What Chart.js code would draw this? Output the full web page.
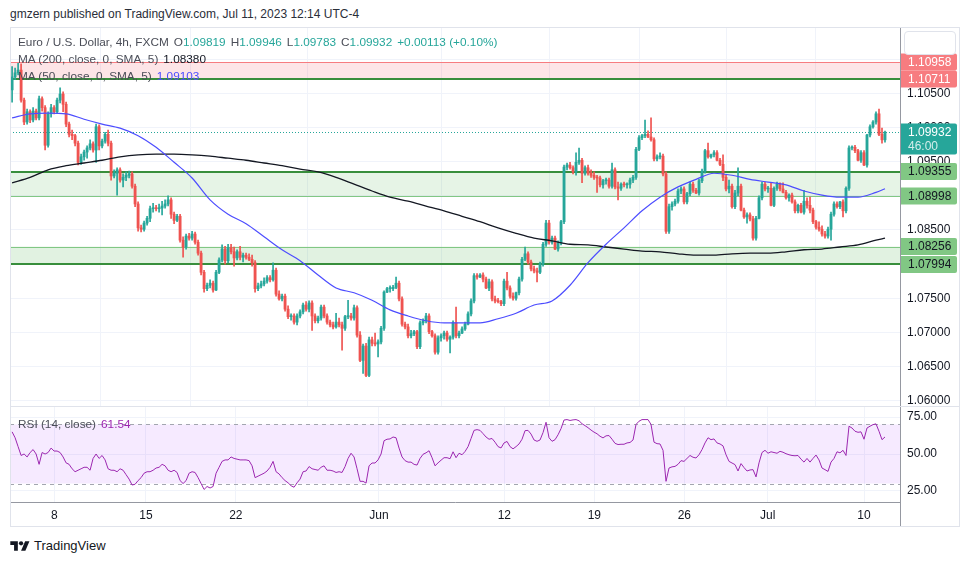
<!DOCTYPE html>
<html lang="en">
<head>
<meta charset="UTF-8">
<title>EUR/USD 4h - FXCM</title>
<script src="https://cdn.jsdelivr.net/npm/chart.js"></script>
<style>
  body { margin: 0; background: #fff; font-family: "Liberation Sans", Arial, sans-serif; }
  #page { position: relative; width: 970px; height: 563px; overflow: hidden; background: #fff; }
  canvas { position: absolute; }
  #price { left: 10px; top: 27px; }
  #osc { left: 10px; top: 406px; }
  .abs { position: absolute; white-space: nowrap; }
  #hdr { left: 10px; top: 6px; font-size: 12px; line-height: 16px; color: #2a2e39; }
  #frame { left: 10px; top: 27px; width: 950px; height: 500px; box-sizing: border-box; border: 1px solid #e0e3eb; pointer-events: none; }
  #sep { left: 10px; top: 406px; width: 950px; height: 1px; background: #e0e3eb; }
  #axisv { left: 900px; top: 500px; width: 1px; height: 27px; background: #9598a1; }
  #unitbtn { left: 904px; top: 31px; width: 52px; height: 24px; box-sizing: border-box; border: 1px solid #e0e3eb; border-radius: 4px; background: #fff; }
  .lg { left: 18px; font-size: 11.8px; line-height: 16px; color: #4a4d57; }
  .lg span { margin-left: 5px; }
  .v { color: #26a69a; }
  #logo { left: 10px; top: 538px; font-size: 13px; line-height: 16px; color: #131722; display: flex; align-items: center; }
  #logo svg { margin-right: 4px; }
</style>
</head>
<body>
<div id="page">
  <div id="hdr" class="abs">gmzern published on TradingView.com, Jul 11, 2023 12:14 UTC-4</div>
  <canvas id="price" width="950" height="379"></canvas>
  <canvas id="osc" width="950" height="121"></canvas>
  <div id="sep" class="abs"></div>
  <div id="axisv" class="abs"></div>
  <div id="frame" class="abs"></div>
  <div id="unitbtn" class="abs"></div>
  <div id="lg1" class="abs lg" style="top:34px"></div>
  <div id="lg2" class="abs lg" style="top:51px"></div>
  <div id="lg3" class="abs lg" style="top:68px"></div>
  <div id="lg4" class="abs lg" style="top:416px"></div>
  <div id="logo" class="abs">
    <svg width="20" height="14" viewBox="0 0 36 26"><path d="M14 22H7V11H0V4h14v18z" fill="#131722"/><path d="M28 22h-8l7.5-18h8L28 22z" fill="#131722"/><circle cx="20" cy="8" r="4" fill="#131722"/></svg>
    <span>TradingView</span>
  </div>
</div>

<script>
// EURUSD 4h candles, May 3 - Jul 11 2023
const opens = [
  1.1055,1.1074,1.1080,1.1084,1.1040,1.1008,1.1023,1.1011,1.1024,1.1014,
  1.1042,1.1029,1.0974,1.1020,1.1029,1.1023,1.1040,1.1049,1.1034,1.1005,
  1.0990,1.0988,1.0977,1.0949,1.0957,1.0964,1.0970,1.0976,1.0967,1.1001,
  1.0973,1.0980,1.0990,1.0977,1.0929,1.0933,1.0938,1.0923,1.0927,1.0930,
  1.0932,1.0914,1.0888,1.0853,1.0851,1.0860,1.0867,1.0881,1.0882,1.0881,
  1.0882,1.0885,1.0888,1.0894,1.0873,1.0864,1.0870,1.0835,1.0825,1.0841,
  1.0838,1.0844,1.0832,1.0816,1.0788,1.0764,1.0769,1.0772,1.0762,1.0788,
  1.0806,1.0822,1.0805,1.0824,1.0818,1.0809,1.0818,1.0810,1.0813,1.0810,
  1.0807,1.0802,1.0764,1.0768,1.0771,1.0775,1.0780,1.0777,1.0791,1.0756,
  1.0749,1.0753,1.0734,1.0723,1.0724,1.0715,1.0724,1.0730,1.0740,1.0734,
  1.0743,1.0724,1.0717,1.0721,1.0737,1.0724,1.0715,1.0711,1.0708,1.0715,
  1.0711,1.0706,1.0723,1.0724,1.0721,1.0736,1.0696,1.0659,1.0680,1.0637,
  1.0689,1.0684,1.0683,1.0686,1.0706,1.0759,1.0764,1.0764,1.0766,1.0772,
  1.0749,1.0712,1.0708,1.0695,1.0698,1.0701,1.0679,1.0714,1.0717,1.0724,
  1.0701,1.0695,1.0671,1.0692,1.0695,1.0699,1.0690,1.0693,1.0714,1.0695,
  1.0699,1.0705,1.0712,1.0727,1.0746,1.0783,1.0781,1.0784,1.0778,1.0765,
  1.0774,1.0749,1.0746,1.0745,1.0742,1.0775,1.0765,1.0753,1.0750,1.0758,
  1.0778,1.0807,1.0815,1.0803,1.0793,1.0790,1.0788,1.0800,1.0829,1.0860,
  1.0832,1.0838,1.0822,1.0831,1.0862,1.0942,1.0945,1.0941,1.0935,1.0949,
  1.0952,1.0933,1.0941,1.0933,1.0930,1.0927,1.0926,1.0916,1.0922,1.0923,
  1.0914,1.0938,1.0913,1.0911,1.0917,1.0916,1.0917,1.0923,1.0927,1.0968,
  1.0985,1.0988,1.0990,1.0986,1.0982,1.0954,1.0957,1.0958,1.0932,1.0848,
  1.0884,1.0888,1.0892,1.0907,1.0910,1.0891,1.0903,1.0917,1.0908,1.0904,
  1.0922,1.0936,1.0966,1.0957,1.0960,1.0963,1.0952,1.0946,1.0927,1.0910,
  1.0914,1.0884,1.0904,1.0914,1.0879,1.0869,1.0872,1.0866,1.0838,1.0867,
  1.0897,1.0917,1.0910,1.0911,1.0886,1.0911,1.0917,1.0910,1.0905,1.0897,
  1.0901,1.0891,1.0878,1.0886,1.0876,1.0892,1.0886,1.0879,1.0862,1.0854,
  1.0851,1.0844,1.0841,1.0851,1.0873,1.0888,1.0884,1.0891,1.0878,1.0911,
  1.0970,1.0971,1.0966,1.0952,1.0963,1.0945,1.0989,1.1001,1.1008,1.1020,
  1.0990,1.09819
];
const highs = [
  1.1089,1.1087,1.1094,1.1093,1.1043,1.1027,1.1026,1.1029,1.1027,1.1046,
  1.1045,1.1032,1.1023,1.1034,1.1032,1.1043,1.1058,1.1052,1.1037,1.1008,
  1.0996,1.0990,1.0980,1.0961,1.0967,1.0973,1.0982,1.0979,1.1005,1.1004,
  1.0983,1.0993,1.0996,1.0980,1.0938,1.0941,1.0941,1.0932,1.0935,1.0936,
  1.0935,1.0917,1.0891,1.0857,1.0863,1.0870,1.0885,1.0889,1.0886,1.0888,
  1.0892,1.0894,1.0900,1.0897,1.0876,1.0873,1.0873,1.0840,1.0844,1.0845,
  1.0848,1.0847,1.0835,1.0819,1.0791,1.0772,1.0777,1.0775,1.0791,1.0809,
  1.0828,1.0826,1.0829,1.0829,1.0825,1.0821,1.0826,1.0816,1.0816,1.0815,
  1.0813,1.0805,1.0772,1.0775,1.0780,1.0783,1.0783,1.0802,1.0794,1.0761,
  1.0756,1.0756,1.0739,1.0727,1.0727,1.0727,1.0733,1.0743,1.0745,1.0746,
  1.0746,1.0727,1.0724,1.0740,1.0740,1.0727,1.0718,1.0715,1.0728,1.0721,
  1.0715,1.0725,1.0747,1.0728,1.0740,1.0739,1.0701,1.0683,1.0684,1.0693,
  1.0693,1.0699,1.0689,1.0709,1.0761,1.0766,1.0768,1.0769,1.0781,1.0775,
  1.0752,1.0715,1.0712,1.0703,1.0703,1.0703,1.0717,1.0720,1.0728,1.0727,
  1.0703,1.0698,1.0695,1.0698,1.0702,1.0702,1.0695,1.0717,1.0737,1.0702,
  1.0708,1.0715,1.0730,1.0749,1.0786,1.0786,1.0786,1.0787,1.0781,1.0778,
  1.0777,1.0753,1.0750,1.0747,1.0778,1.0788,1.0768,1.0758,1.0759,1.0781,
  1.0810,1.0825,1.0818,1.0806,1.0797,1.0794,1.0803,1.0832,1.0864,1.0864,
  1.0841,1.0841,1.0834,1.0864,1.0945,1.0948,1.0949,1.0944,1.0963,1.0970,
  1.0955,1.0944,1.0945,1.0938,1.0935,1.0930,1.0929,1.0924,1.0926,1.0926,
  1.0948,1.0941,1.0920,1.0919,1.0920,1.0919,1.0926,1.0930,1.0971,1.0988,
  1.0990,1.1011,1.0995,1.1014,1.0985,1.0960,1.0963,1.0961,1.0935,1.0888,
  1.0891,1.0895,1.0910,1.0913,1.0913,1.0905,1.0920,1.0920,1.0911,1.0924,
  1.0939,1.0968,1.0977,1.0961,1.0966,1.0966,1.0955,1.0960,1.0930,1.0923,
  1.0917,1.0908,1.0941,1.0917,1.0882,1.0875,1.0875,1.0870,1.0870,1.0900,
  1.0920,1.0920,1.0914,1.0919,1.0913,1.0920,1.0919,1.0919,1.0908,1.0903,
  1.0904,1.0894,1.0888,1.0889,1.0908,1.0897,1.0898,1.0882,1.0864,1.0862,
  1.0856,1.0848,1.0854,1.0876,1.0891,1.0891,1.0892,1.0894,1.0913,1.0973,
  1.0973,1.0974,1.0968,1.0966,1.0966,1.0990,1.1004,1.1010,1.1023,1.1027,
  1.0999,1.09946
];
const lows = [
  1.1037,1.1070,1.1077,1.1037,1.1004,1.1005,1.1007,1.1008,1.1011,1.1011,
  1.1024,1.0967,1.0971,1.1015,1.1020,1.1021,1.1036,1.1023,1.1001,1.0986,
  1.0982,1.0973,1.0945,1.0946,1.0952,1.0955,1.0967,1.0964,1.0949,1.0967,
  1.0970,1.0977,1.0973,1.0923,1.0926,1.0901,1.0920,1.0913,1.0922,1.0926,
  1.0911,1.0884,1.0848,1.0847,1.0848,1.0857,1.0862,1.0876,1.0878,1.0876,
  1.0872,1.0882,1.0885,1.0867,1.0859,1.0862,1.0832,1.0810,1.0822,1.0835,
  1.0835,1.0829,1.0813,1.0784,1.0759,1.0761,1.0765,1.0759,1.0761,1.0786,
  1.0803,1.0800,1.0802,1.0815,1.0797,1.0806,1.0806,1.0803,1.0807,1.0805,
  1.0797,1.0759,1.0761,1.0765,1.0768,1.0772,1.0774,1.0775,1.0753,1.0747,
  1.0746,1.0731,1.0720,1.0718,1.0712,1.0711,1.0721,1.0727,1.0731,1.0730,
  1.0703,1.0714,1.0714,1.0718,1.0721,1.0712,1.0708,1.0705,1.0706,1.0708,
  1.0674,1.0703,1.0720,1.0718,1.0718,1.0693,1.0657,1.0640,1.0635,1.0635,
  1.0680,1.0680,1.0664,1.0683,1.0703,1.0758,1.0759,1.0761,1.0764,1.0746,
  1.0709,1.0705,1.0692,1.0692,1.0695,1.0676,1.0676,1.0711,1.0714,1.0698,
  1.0693,1.0668,1.0668,1.0687,1.0690,1.0687,1.0670,1.0690,1.0692,1.0692,
  1.0698,1.0703,1.0711,1.0724,1.0743,1.0778,1.0780,1.0774,1.0764,1.0761,
  1.0746,1.0743,1.0743,1.0739,1.0739,1.0762,1.0750,1.0747,1.0747,1.0755,
  1.0775,1.0805,1.0800,1.0790,1.0787,1.0774,1.0786,1.0797,1.0826,1.0829,
  1.0829,1.0821,1.0819,1.0828,1.0859,1.0938,1.0939,1.0932,1.0930,1.0946,
  1.0919,1.0930,1.0930,1.0927,1.0924,1.0905,1.0913,1.0911,1.0917,1.0911,
  1.0911,1.0910,1.0894,1.0908,1.0913,1.0911,1.0911,1.0919,1.0924,1.0966,
  1.0982,1.0985,1.0985,1.0980,1.0951,1.0951,1.0954,1.0929,1.0845,1.0845,
  1.0879,1.0885,1.0889,1.0903,1.0888,1.0888,1.0900,1.0905,1.0903,1.0901,
  1.0919,1.0933,1.0955,1.0955,1.0957,1.0951,1.0944,1.0922,1.0907,1.0904,
  1.0882,1.0881,1.0900,1.0878,1.0867,1.0860,1.0863,1.0835,1.0835,1.0866,
  1.0894,1.0907,1.0905,1.0885,1.0884,1.0908,1.0907,1.0904,1.0895,1.0892,
  1.0889,1.0875,1.0875,1.0875,1.0873,1.0882,1.0875,1.0859,1.0851,1.0848,
  1.0841,1.0838,1.0838,1.0835,1.0870,1.0882,1.0881,1.0869,1.0875,1.0908,
  1.0967,1.0963,1.0951,1.0949,1.0944,1.0942,1.0986,1.0999,1.1005,1.0988,
  1.0977,1.09783
];
const closes = [
  1.1074,1.1080,1.1084,1.1040,1.1008,1.1023,1.1011,1.1024,1.1014,1.1042,
  1.1029,1.0974,1.1020,1.1029,1.1023,1.1040,1.1049,1.1034,1.1005,1.0990,
  1.0988,1.0977,1.0949,1.0957,1.0964,1.0970,1.0976,1.0967,1.1001,1.0973,
  1.0980,1.0990,1.0977,1.0929,1.0933,1.0938,1.0923,1.0927,1.0930,1.0932,
  1.0914,1.0888,1.0853,1.0851,1.0860,1.0867,1.0881,1.0882,1.0881,1.0882,
  1.0885,1.0888,1.0894,1.0873,1.0864,1.0870,1.0835,1.0825,1.0841,1.0838,
  1.0844,1.0832,1.0816,1.0788,1.0764,1.0769,1.0772,1.0762,1.0788,1.0806,
  1.0822,1.0805,1.0824,1.0818,1.0809,1.0818,1.0810,1.0813,1.0810,1.0807,
  1.0802,1.0764,1.0768,1.0771,1.0775,1.0780,1.0777,1.0791,1.0756,1.0749,
  1.0753,1.0734,1.0723,1.0724,1.0715,1.0724,1.0730,1.0740,1.0734,1.0743,
  1.0724,1.0717,1.0721,1.0737,1.0724,1.0715,1.0711,1.0708,1.0715,1.0711,
  1.0706,1.0723,1.0724,1.0721,1.0736,1.0696,1.0659,1.0680,1.0637,1.0689,
  1.0684,1.0683,1.0686,1.0706,1.0759,1.0764,1.0764,1.0766,1.0772,1.0749,
  1.0712,1.0708,1.0695,1.0698,1.0701,1.0679,1.0714,1.0717,1.0724,1.0701,
  1.0695,1.0671,1.0692,1.0695,1.0699,1.0690,1.0693,1.0714,1.0695,1.0699,
  1.0705,1.0712,1.0727,1.0746,1.0783,1.0781,1.0784,1.0778,1.0765,1.0774,
  1.0749,1.0746,1.0745,1.0742,1.0775,1.0765,1.0753,1.0750,1.0758,1.0778,
  1.0807,1.0815,1.0803,1.0793,1.0790,1.0788,1.0800,1.0829,1.0860,1.0832,
  1.0838,1.0822,1.0831,1.0862,1.0942,1.0945,1.0941,1.0935,1.0949,1.0952,
  1.0933,1.0941,1.0933,1.0930,1.0927,1.0926,1.0916,1.0922,1.0923,1.0914,
  1.0938,1.0913,1.0911,1.0917,1.0916,1.0917,1.0923,1.0927,1.0968,1.0985,
  1.0988,1.0990,1.0986,1.0982,1.0954,1.0957,1.0958,1.0932,1.0848,1.0884,
  1.0888,1.0892,1.0907,1.0910,1.0891,1.0903,1.0917,1.0908,1.0904,1.0922,
  1.0936,1.0966,1.0957,1.0960,1.0963,1.0952,1.0946,1.0927,1.0910,1.0914,
  1.0884,1.0904,1.0914,1.0879,1.0869,1.0872,1.0866,1.0838,1.0867,1.0897,
  1.0917,1.0910,1.0911,1.0886,1.0911,1.0917,1.0910,1.0905,1.0897,1.0901,
  1.0891,1.0878,1.0886,1.0876,1.0892,1.0886,1.0879,1.0862,1.0854,1.0851,
  1.0844,1.0841,1.0851,1.0873,1.0888,1.0884,1.0891,1.0878,1.0911,1.0970,
  1.0971,1.0966,1.0952,1.0963,1.0945,1.0989,1.1001,1.1008,1.1020,1.0990,
  1.09819,1.09932
];

// moving averages, read every 6 bars
const maIdx = [0,6,12,18,24,30,36,42,48,54,60,66,72,78,84,90,96,102,108,114,
  120,126,132,138,144,150,156,162,168,174,180,186,192,198,204,210,216,222,228,234,
  240,246,252,258,264,270,276,282,288,291];
const ma50 = [
  1.1014,1.1020,1.1021,1.1020,1.1012,1.1005,1.0999,1.0988,1.0971,1.0949,
  1.0926,1.0894,1.0873,1.0859,1.0840,1.0821,1.0805,1.0784,1.0765,1.0758,
  1.0747,1.0733,1.0724,1.0717,1.0714,1.0714,1.0714,1.0720,1.0728,1.0740,
  1.0746,1.0769,1.0802,1.0829,1.0853,1.0878,1.0898,1.0913,1.0924,1.0933,
  1.0930,1.0924,1.0920,1.0916,1.0907,1.0901,1.0898,1.0898,1.0905,1.09103
];
const ma200 = [
  1.0919,1.0927,1.0938,1.0944,1.0948,1.0952,1.0957,1.0960,1.0961,1.0961,
  1.0960,1.0958,1.0955,1.0952,1.0948,1.0944,1.0939,1.0935,1.0927,1.0917,
  1.0907,1.0898,1.0892,1.0885,1.0878,1.0870,1.0862,1.0853,1.0845,1.0838,
  1.0834,1.0829,1.0828,1.0825,1.0822,1.0819,1.0818,1.0815,1.0813,1.0813,
  1.0815,1.0816,1.0816,1.0818,1.0821,1.0822,1.0825,1.0828,1.0835,1.0838
];

// RSI(14), one value per bar
const rsi = [
  65,61,55,49,50,48,51,53,50,43,
  51,50,51,54,52,52,51,48,44,43,
  40,38,39,40,41,41,39,47,50,47,
  49,46,40,39,39,38,40,39,36,33,
  29,29.5,32,34,37,38,38,39,40.5,41,
  43,42,39,38,39,37.5,32,30,32,37,
  38,37.5,34,30,26,28,27,28,37,41,
  45,46,46,48,47,46.5,46,46,46,45.5,
  42,34,35,36,37,38.5,41,45,38,36.5,
  34,32,30.5,28.5,27.5,30.5,33,38,38.5,41.5,
  40,39.5,39,41,42,39,39,38.5,37.5,38,
  37.5,41.5,47,50.5,48,40,31.5,31.5,30.3,42,
  43.9,43.9,46,50,59,60,60.2,61.5,61,54,
  48,45.5,44.5,44.5,43,42.5,47,49.8,50.8,52.2,
  47.5,42,44,45.8,47.5,47.5,46.8,51.5,47.5,50.5,
  49.5,51.7,55,60.5,66,66.5,66,63.8,61.5,60,
  60.5,58,55,54.1,57.5,58.5,55,53.5,55,56.8,
  60,65.8,66,63.5,59.5,58.6,59.5,64.5,71.5,61,
  58.6,59.7,63,67.2,73,73.3,72.7,73.1,73.3,72.5,
  70.5,69.2,67.8,66.2,64.8,63.7,62,60.9,62.3,62.5,
  60,57.2,56.4,56.6,56.6,57.5,57.8,59.5,70,72.2,
  73.3,73.3,73.3,70,58,57,56.8,52.5,31.5,40.5,
  41.3,41.6,43,45.5,45,47,49,47.8,47.3,49.5,
  53,57.5,61,59.7,60.2,57.5,56.8,55.5,49.5,45,
  43.9,42.8,38.5,43.5,40.8,38.5,39.2,39.4,34.5,44,
  51,52.5,50.5,51.5,51,50.5,51.8,51.2,50.2,49.5,
  49,48.8,49,46.5,44.5,47,44.5,47,49.3,46,
  40.5,39.4,38.2,44.5,47,51.5,50.8,52.5,49,68.8,
  67.6,65.4,64.7,65,60,67.6,68.8,69.9,70.4,65.4,
  59.7,61.54
];

// drawn levels and zones
const redZone = [1.10958, 1.10711];
const upperZone = [1.09355, 1.08998];
const lowerZone = [1.08256, 1.07994];
const rsiBand = [70, 30];

// axes
const tickIdx = [14.1, 44.6, 74.6, 122.3, 164.1, 194.1, 224.1, 251.9, 284];
const tickLabels = ['8', '15', '22', 'Jun', '12', '19', '26', 'Jul', '10'];
const priceTicks = [1.06, 1.065, 1.07, 1.075, 1.08, 1.085, 1.09, 1.095, 1.10, 1.105, 1.11];
const rsiTicks = [25, 50, 75];
const countdown = '46:00';

const FONT = '"Liberation Sans", Arial, sans-serif';
const UP = '#26a69a', DOWN = '#ef5350';
const GRID = '#f0f3fa', AXIS = '#9598a1', TEXT = '#131722';
const X_MIN = -0.7, X_MAX = 296;

Chart.defaults.font.family = FONT;
Chart.defaults.font.size = 12;
Chart.defaults.color = TEXT;

const last = closes.length - 1;
const idx = closes.map((_, i) => i);
const candleColors = closes.map((c, i) => c >= opens[i] ? UP : DOWN);

// legend texts
const chg = closes[last] - closes[last - 1];
const pct = chg / closes[last - 1] * 100;
document.getElementById('lg1').innerHTML =
  'Euro / U.S. Dollar, 4h, FXCM' +
  '<span>O<b class="v" style="font-weight:normal">' + opens[last].toFixed(5) + '</b></span>' +
  '<span>H<b class="v" style="font-weight:normal">' + highs[last].toFixed(5) + '</b></span>' +
  '<span>L<b class="v" style="font-weight:normal">' + lows[last].toFixed(5) + '</b></span>' +
  '<span>C<b class="v" style="font-weight:normal">' + closes[last].toFixed(5) + '</b></span>' +
  '<span class="v">' + (chg >= 0 ? '+' : '') + chg.toFixed(5) + ' (' + (pct >= 0 ? '+' : '') + pct.toFixed(2) + '%)</span>';
document.getElementById('lg2').innerHTML =
  'MA (200, close, 0, SMA, 5)<span style="color:#131722">' + ma200[ma200.length - 1].toFixed(5) + '</span>';
document.getElementById('lg3').innerHTML =
  'MA (50, close, 0, SMA, 5)<span style="color:#4d4dff">' + ma50[ma50.length - 1].toFixed(5) + '</span>';
document.getElementById('lg4').innerHTML =
  'RSI (14, close)<span style="color:#9c27b0">' + rsi[last].toFixed(2) + '</span>';

function hLine(ctx, area, y, color, width, dash) {
  const yy = width % 2 ? Math.round(y) + 0.5 : Math.round(y);
  ctx.save();
  ctx.strokeStyle = color;
  ctx.lineWidth = width;
  ctx.setLineDash(dash || []);
  ctx.beginPath();
  ctx.moveTo(area.left, yy);
  ctx.lineTo(area.right, yy);
  ctx.stroke();
  ctx.restore();
}

function band(ctx, area, scale, v1, v2, color) {
  const y1 = scale.getPixelForValue(v1), y2 = scale.getPixelForValue(v2);
  ctx.fillStyle = color;
  ctx.fillRect(area.left, Math.min(y1, y2), area.right - area.left, Math.abs(y2 - y1));
}

function tag(ctx, area, y, text, bg, fg, sub) {
  const x0 = area.right + 1, w = 56, h = 17;
  const top = y - h / 2, hh = sub ? 31 : h;
  ctx.fillStyle = bg;
  ctx.beginPath();
  ctx.roundRect(x0, top, w, hh, [0, 2, 2, 0]);
  ctx.fill();
  ctx.fillStyle = fg;
  ctx.font = '12px ' + FONT;
  ctx.textBaseline = 'middle';
  ctx.textAlign = 'left';
  ctx.fillText(text, x0 + 7, y + 0.5);
  if (sub) {
    ctx.fillStyle = 'rgba(255,255,255,0.8)';
    ctx.fillText(sub, x0 + 7, y + 14.5);
  }
}

// stop Chart.js from reserving room for half-labels at the ends of the axes
function noPad(s) {
  s.paddingTop = 0;
  s.paddingBottom = 0;
  s.paddingLeft = 0;
  s.paddingRight = 0;
}

const zonePlugin = {
  id: 'zones',
  beforeDatasetsDraw(chart) {
    const { ctx, chartArea: a, scales: { y } } = chart;
    ctx.save();
    band(ctx, a, y, redZone[0], redZone[1], 'rgba(242,54,69,0.13)');
    band(ctx, a, y, upperZone[0], upperZone[1], 'rgba(76,175,80,0.14)');
    band(ctx, a, y, lowerZone[0], lowerZone[1], 'rgba(76,175,80,0.17)');
    hLine(ctx, a, y.getPixelForValue(redZone[0]), '#f77c80', 1);
    hLine(ctx, a, y.getPixelForValue(upperZone[1]), '#81c784', 1);
    hLine(ctx, a, y.getPixelForValue(lowerZone[0]), '#81c784', 1);
    hLine(ctx, a, y.getPixelForValue(redZone[1]), '#388e3c', 2);
    hLine(ctx, a, y.getPixelForValue(upperZone[0]), '#388e3c', 2);
    hLine(ctx, a, y.getPixelForValue(lowerZone[1]), '#388e3c', 2);
    hLine(ctx, a, y.getPixelForValue(closes[last]), UP, 1, [1, 2]);
    ctx.restore();
  },
  afterDraw(chart) {
    const { ctx, chartArea: a, scales: { y } } = chart;
    ctx.save();
    const px = v => y.getPixelForValue(v);
    tag(ctx, a, px(redZone[0]), redZone[0].toFixed(5), '#f77c80', '#fff');
    tag(ctx, a, px(redZone[1]), redZone[1].toFixed(5), '#f77c80', '#fff');
    tag(ctx, a, px(upperZone[0]), upperZone[0].toFixed(5), '#81c784', TEXT);
    tag(ctx, a, px(upperZone[1]), upperZone[1].toFixed(5), '#81c784', TEXT);
    tag(ctx, a, px(lowerZone[0]), lowerZone[0].toFixed(5), '#81c784', TEXT);
    tag(ctx, a, px(lowerZone[1]), lowerZone[1].toFixed(5), '#81c784', TEXT);
    tag(ctx, a, px(closes[last]), closes[last].toFixed(5), UP, '#fff', countdown);
    ctx.restore();
  }
};

const xScale = (showLabels) => ({
  type: 'linear',
  min: X_MIN,
  max: X_MAX,
  offset: false,
  grid: { color: GRID, drawTicks: false },
  border: { display: showLabels, color: AXIS },
  ticks: {
    display: showLabels,
    autoSkip: false,
    maxRotation: 0,
    padding: 6,
    color: TEXT,
    callback: (v, i) => tickLabels[i]
  },
  afterBuildTicks: s => { s.ticks = tickIdx.map(v => ({ value: v })); },
  afterFit: s => { s.height = showLabels ? 25 : 0; noPad(s); }
});

new Chart(document.getElementById('price'), {
  type: 'bar',
  data: {
    datasets: [
      {
        type: 'line', label: 'MA 50',
        data: maIdx.map((x, k) => ({ x: x, y: ma50[k] })),
        borderColor: '#4d4dff', borderWidth: 1.2, pointRadius: 0,
        cubicInterpolationMode: 'monotone', order: 0
      },
      {
        type: 'line', label: 'MA 200',
        data: maIdx.map((x, k) => ({ x: x, y: ma200[k] })),
        borderColor: '#131722', borderWidth: 1.3, pointRadius: 0,
        cubicInterpolationMode: 'monotone', order: 0
      },
      {
        type: 'bar', label: 'body',
        data: idx.map(i => ({ x: i, y: [opens[i], closes[i]] })),
        backgroundColor: candleColors, barThickness: 2.2, minBarLength: 1,
        grouped: false, order: 1
      },
      {
        type: 'bar', label: 'wick',
        data: idx.map(i => ({ x: i, y: [lows[i], highs[i]] })),
        backgroundColor: candleColors, barThickness: 1,
        grouped: false, order: 2
      }
    ]
  },
  options: {
    responsive: false,
    animation: false,
    events: [],
    layout: { padding: 0, autoPadding: false },
    plugins: { legend: { display: false }, tooltip: { enabled: false } },
    scales: {
      x: xScale(false),
      y: {
        position: 'right',
        min: 1.05922,
        max: 1.11471,
        grid: { color: GRID, drawTicks: false },
        border: { display: true, color: AXIS },
        ticks: { padding: 7, color: TEXT, callback: v => v.toFixed(5) },
        afterBuildTicks: s => { s.ticks = priceTicks.map(v => ({ value: v })); },
        afterFit: s => { s.width = 60; noPad(s); }
      }
    }
  },
  plugins: [zonePlugin]
});

const rsiPlugin = {
  id: 'rsiBand',
  beforeDatasetsDraw(chart) {
    const { ctx, chartArea: a, scales: { y } } = chart;
    ctx.save();
    band(ctx, a, y, rsiBand[0], rsiBand[1], 'rgba(153,21,255,0.09)');
    hLine(ctx, a, y.getPixelForValue(rsiBand[0]), '#a3a6af', 1, [4, 4]);
    hLine(ctx, a, y.getPixelForValue(rsiBand[1]), '#a3a6af', 1, [4, 4]);
    ctx.restore();
  }
};

new Chart(document.getElementById('osc'), {
  type: 'line',
  data: {
    datasets: [{
      label: 'RSI',
      data: rsi.map((v, i) => ({ x: i, y: v })),
      borderColor: '#9c27b0', borderWidth: 1, pointRadius: 0, tension: 0
    }]
  },
  options: {
    responsive: false,
    animation: false,
    events: [],
    layout: { padding: 0, autoPadding: false },
    plugins: { legend: { display: false }, tooltip: { enabled: false } },
    scales: {
      x: xScale(true),
      y: {
        position: 'right',
        min: 17.5,
        max: 82.5,
        grid: { color: GRID, drawTicks: false },
        border: { display: true, color: AXIS },
        ticks: { padding: 7, color: TEXT, callback: v => v.toFixed(2) },
        afterBuildTicks: s => { s.ticks = rsiTicks.map(v => ({ value: v })); },
        afterFit: s => { s.width = 60; noPad(s); }
      }
    }
  },
  plugins: [rsiPlugin]
});
</script>
</body>
</html>
